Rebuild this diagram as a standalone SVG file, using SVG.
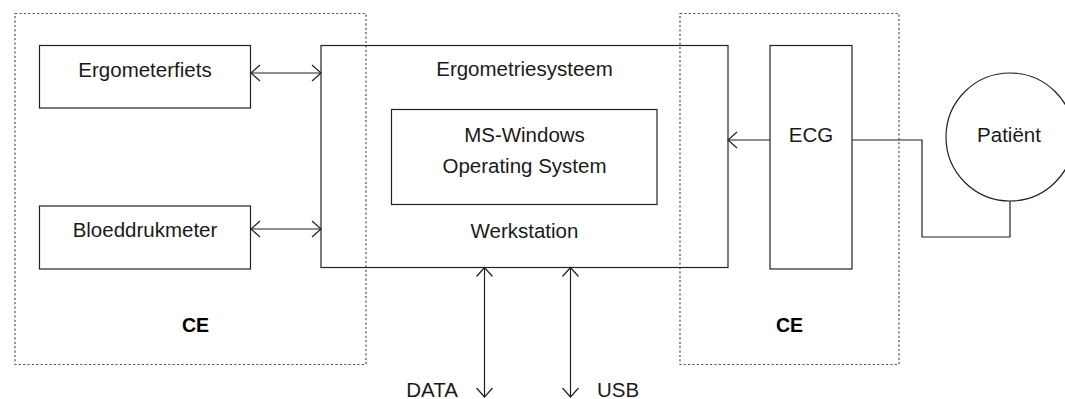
<svg xmlns="http://www.w3.org/2000/svg" width="1065" height="399" viewBox="0 0 1065 399">
<style>
  .box { fill: none; stroke: #222; stroke-width: 1.2; }
  .dash { fill: none; stroke: #555; stroke-width: 1.2; stroke-dasharray: 2.2 2.2; }
  .lbl { font-family: "Liberation Sans", Arial, sans-serif; font-size: 20.5px; fill: #1a1a1a; text-anchor: middle; }
  .ce { font-family: "Liberation Sans", Arial, sans-serif; font-size: 19.5px; font-weight: bold; fill: #000; text-anchor: middle; }
  .wire { fill: none; stroke: #222; stroke-width: 1.2; }
</style>
<defs>
  <marker id="ah" markerUnits="userSpaceOnUse" markerWidth="20" markerHeight="20" viewBox="-10 -10 20 20" refX="0" refY="0" orient="auto-start-reverse">
    <path d="M-9,-8 L0,0 L-9,8" fill="none" stroke="#222" stroke-width="1.2"/>
  </marker>
</defs>
<rect width="1065" height="399" fill="#fff"/>

<g id="ce-left">
  <rect class="dash" x="15" y="13.5" width="351" height="351"/>
  <text class="ce" x="195.5" y="332">CE</text>
</g>
<g id="ce-right">
  <rect class="dash" x="680" y="13.5" width="219" height="351"/>
  <text class="ce" x="789.5" y="332">CE</text>
</g>

<g id="ergometerfiets">
  <rect class="box" x="39.5" y="45.5" width="211" height="62.5"/>
  <text class="lbl" x="145" y="77">Ergometerfiets</text>
</g>
<g id="bloeddrukmeter">
  <rect class="box" x="39.5" y="206" width="211" height="63"/>
  <text class="lbl" x="145" y="237">Bloeddrukmeter</text>
</g>
<g id="werkstation">
  <rect class="box" x="321" y="45.5" width="407" height="222"/>
  <text class="lbl" x="524.5" y="76">Ergometriesysteem</text>
  <text class="lbl" x="524.5" y="238">Werkstation</text>
</g>
<g id="ms-windows">
  <rect class="box" x="391.5" y="109.5" width="265.5" height="95"/>
  <text class="lbl" x="524.5" y="141.5">MS-Windows</text>
  <text class="lbl" x="524.5" y="173">Operating System</text>
</g>
<g id="ecg">
  <rect class="box" x="770" y="45.5" width="82" height="223.5"/>
  <text class="lbl" x="811" y="141.5">ECG</text>
</g>
<g id="patient">
  <circle class="box" cx="1010" cy="137" r="64"/>
  <text class="lbl" x="1009" y="141.5">Patiënt</text>
</g>
<g id="data-label">
  <text class="lbl" x="432" y="397">DATA</text>
</g>
<g id="usb-label">
  <text class="lbl" x="618" y="397">USB</text>
</g>

<g id="connectors">
  <line class="wire" x1="251" y1="73" x2="321" y2="73" marker-start="url(#ah)" marker-end="url(#ah)"/>
  <line class="wire" x1="251" y1="229" x2="321" y2="229" marker-start="url(#ah)" marker-end="url(#ah)"/>
  <line class="wire" x1="770" y1="140" x2="728" y2="140" marker-end="url(#ah)"/>
  <polyline class="wire" points="852,140 922,140 922,237 1010,237 1010,201"/>
  <line class="wire" x1="484.5" y1="267.5" x2="484.5" y2="397" marker-start="url(#ah)" marker-end="url(#ah)"/>
  <line class="wire" x1="570.5" y1="267.5" x2="570.5" y2="397" marker-start="url(#ah)" marker-end="url(#ah)"/>
</g>
</svg>
